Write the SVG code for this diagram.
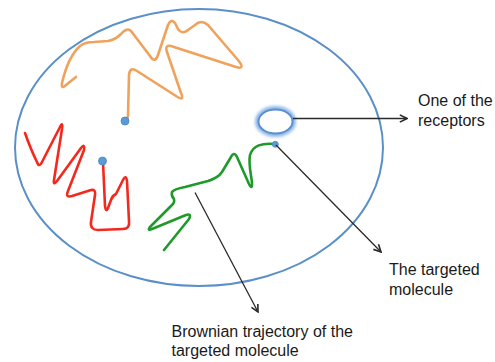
<svg xmlns="http://www.w3.org/2000/svg" width="495" height="362" viewBox="0 0 495 362">
  <style>
    .lbl { font-family: "Liberation Sans", Arial, sans-serif; font-size: 16px; fill: #1a1a1a; }
    .traj { fill: none; stroke-width: 2.6; stroke-linecap: round; stroke-linejoin: round; }
    .dot { fill: #5b9bd5; stroke: #4a86c0; stroke-width: 0.8; }
    .conn { stroke: #2a2a2a; stroke-width: 1.3; fill: none; }
  </style>
  <defs>
    <marker id="arr" viewBox="0 0 10 10" refX="9" refY="5" markerWidth="9" markerHeight="9" markerUnits="userSpaceOnUse" orient="auto">
      <polyline points="1,1 9,5 1,9" fill="none" stroke="#2a2a2a" stroke-width="1.8" stroke-linejoin="miter"/>
    </marker>
    <filter id="glow" x="-50%" y="-50%" width="200%" height="200%">
      <feGaussianBlur stdDeviation="1.8"/>
    </filter>
  </defs>
  <rect width="495" height="362" fill="#ffffff"/>

  <g id="cell">
    <ellipse cx="199" cy="147.5" rx="184" ry="138.5" fill="none" stroke="#5a8fc8" stroke-width="2"/>
  </g>

  <g id="orange-trajectory">
    <path class="traj" stroke="#f0a25c" d="M76,77 L66,85 Q61,90 62,83 C65,70 70,55 80,46 Q85,42 94,42 L108,41 Q115,40 121,34 Q127,27 131,31 L150,56 Q155,64 158,55 L168,25 Q171,18 175,23 L178,29 Q182,35 188,30 L195,25 Q201,19 208,25 L238,60 Q246,70 236,67 L174,47 Q164,43 167,52 L181,93 Q185,102 176,96 L137,71 Q130,66 129,75 L128,116 Q127,120 125,121"/>
    <circle class="dot" cx="125" cy="121" r="4"/>
  </g>

  <g id="red-trajectory">
    <path class="traj" stroke="#f5281e" d="M25,133 Q31,150 37,162 Q39,168 42,162 L60,127 Q63,121 62,129 L54,180 Q53,186 57,181 L81,148 Q85,143 84,150 L68,191 Q65,198 72,196 L91,190 Q96,189 95,195 L91,222 Q90,230 98,230 L123,229 Q130,229 129,221 L127,181 Q126,174 123,180 L116,194 Q112,196 111,200 L108,208 Q106,213 105,206 L103,162"/>
    <circle class="dot" cx="102.5" cy="161" r="4"/>
  </g>

  <g id="green-trajectory">
    <path class="traj" stroke="#1f9a2a" d="M275,144 C262,143 253,145 250,155 C248,165 252,178 252,184 Q252,190 249,184 L237,157 Q234,151 231,157 L222,172 Q218,178 208,181 L185,187 Q174,189 172,192 Q171,196 174,199 Q175,203 171,206 L150,227 Q147,231 152,229 L186,215 Q192,213 189,219 L164,250"/>
  </g>

  <g id="receptor">
    <ellipse cx="275.5" cy="121.5" rx="17.5" ry="12.5" fill="none" stroke="#8fb8e8" stroke-width="6" filter="url(#glow)"/>
    <ellipse cx="275.5" cy="121.5" rx="17" ry="12" fill="#ffffff" stroke="#5b8fd0" stroke-width="2"/>
  </g>

  <g id="targeted-molecule">
    <circle class="dot" cx="275.3" cy="144.3" r="3"/>
  </g>

  <g id="connectors">
    <line class="conn" x1="293" y1="118.5" x2="407" y2="118.5" marker-end="url(#arr)"/>
    <line class="conn" x1="276" y1="145" x2="381" y2="252" marker-end="url(#arr)"/>
    <line class="conn" x1="195" y1="192.5" x2="258" y2="312" marker-end="url(#arr)"/>
  </g>

  <g id="label-receptors">
    <text class="lbl" x="418" y="106">One of the</text>
    <text class="lbl" x="418" y="126">receptors</text>
  </g>
  <g id="label-molecule">
    <text class="lbl" x="389" y="275">The targeted</text>
    <text class="lbl" x="389" y="294.5">molecule</text>
  </g>
  <g id="label-brownian">
    <text class="lbl" x="171.5" y="337">Brownian trajectory of the</text>
    <text class="lbl" x="171.5" y="356">targeted molecule</text>
  </g>
</svg>
